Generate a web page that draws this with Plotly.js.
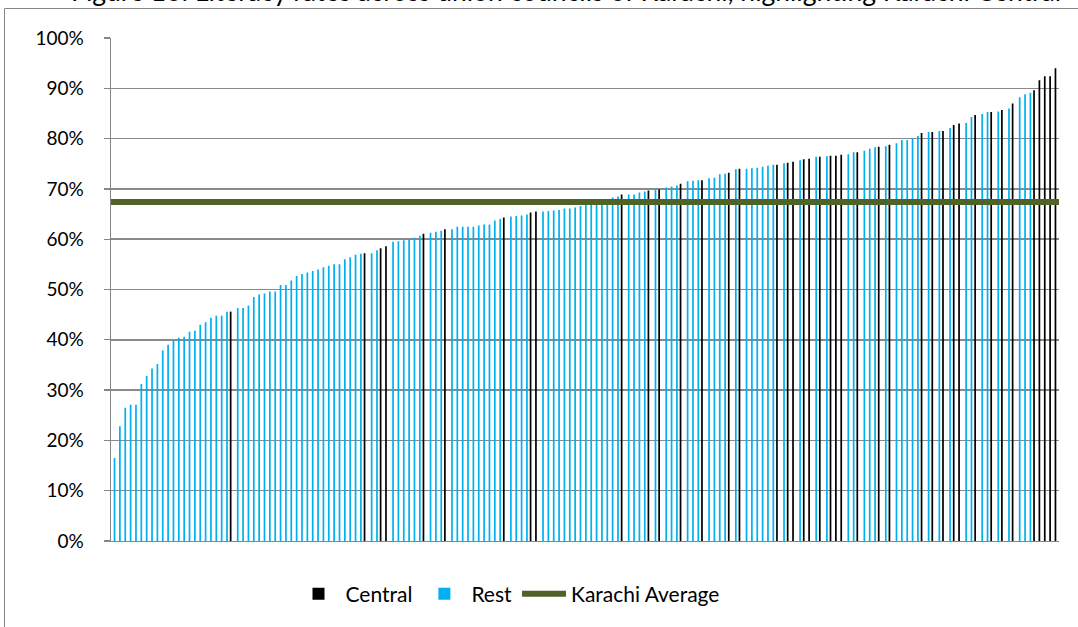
<!DOCTYPE html>
<html>
<head>
<meta charset="utf-8">
<script src="https://cdn.plot.ly/plotly-3.0.1.min.js"></script>
<style>html,body{margin:0;padding:0;background:#fff;}#chart{width:1078px;height:627px;}</style>
</head>
<body>
<div id="chart"></div>
<script>
// Literacy rate per union council (percent), sorted ascending
const literacyRates = [
  16.5, 22.8, 26.5, 27.1, 27.1, 31.2, 32.8, 34.3, 35.2, 37.9,
  39.0, 39.9, 40.4, 40.6, 41.6, 41.8, 43.0, 43.5, 44.4, 44.8,
  44.8, 45.6, 45.6, 46.3, 46.3, 46.8, 48.5, 49.0, 49.2, 49.6,
  49.6, 50.9, 50.9, 51.8, 52.7, 53.1, 53.4, 53.7, 54.0, 54.4,
  54.7, 55.0, 55.0, 56.0, 56.4, 56.9, 57.1, 57.2, 57.2, 57.8,
  58.2, 58.6, 59.5, 59.6, 59.8, 59.9, 60.3, 60.7, 61.1, 61.3,
  61.5, 61.7, 62.0, 62.0, 62.5, 62.5, 62.5, 62.5, 62.7, 62.9,
  62.9, 63.7, 64.0, 64.3, 64.5, 64.6, 64.7, 64.9, 65.3, 65.5,
  65.5, 65.6, 65.7, 65.8, 66.1, 66.1, 66.3, 66.6, 66.8, 67.0,
  67.2, 67.5, 67.8, 68.3, 68.5, 68.9, 68.9, 68.9, 69.3, 69.5,
  69.7, 69.8, 69.9, 70.3, 70.5, 70.7, 71.0, 71.5, 71.6, 71.7,
  71.7, 72.1, 72.2, 72.9, 73.0, 73.2, 73.9, 74.0, 74.0, 74.1,
  74.2, 74.4, 74.6, 74.8, 74.8, 75.1, 75.2, 75.4, 75.7, 75.9,
  76.0, 76.4, 76.4, 76.5, 76.6, 76.6, 76.8, 76.9, 77.3, 77.3,
  77.6, 78.0, 78.3, 78.4, 78.5, 78.8, 79.1, 79.7, 79.7, 80.0,
  80.5, 81.1, 81.3, 81.3, 81.5, 81.5, 82.1, 82.7, 83.0, 83.1,
  84.3, 84.7, 84.9, 85.3, 85.3, 85.4, 85.7, 86.0, 87.0, 88.2,
  88.8, 89.1, 89.6, 91.6, 92.4, 92.4, 94.0
];
// 1-based positions of union councils that belong to District Central
const centralPositions = [
  23, 48, 51, 52, 59, 63, 74, 79, 80, 96, 101, 103, 107, 111, 116, 118,
  125, 127, 128, 130, 131, 133, 135, 136, 137, 140, 144, 146, 152, 154,
  156, 158, 159, 162, 165, 167, 169, 173, 174, 175, 176, 177
];
const karachiAverage = 67.4;
const yTickValues = [0, 10, 20, 30, 40, 50, 60, 70, 80, 90, 100];
const yTickLabels = ['0%', '10%', '20%', '30%', '40%', '50%', '60%', '70%', '80%', '90%', '100%'];
const seriesNames = ['Central', 'Rest', 'Karachi Average'];
const titleText = 'Figure 16: Literacy rates across union councils of Karachi, highlighting Karachi Central';

const positions = literacyRates.map((v, i) => i + 1);
const centralSet = new Set(centralPositions);
const centralY = literacyRates.map((v, i) => centralSet.has(i + 1) ? v : null);
const restY = literacyRates.map((v, i) => centralSet.has(i + 1) ? null : v);

const FONT = 'Lato, "Open Sans", "Liberation Sans", sans-serif';

const traces = [
  {type: 'bar', name: seriesNames[0], x: positions, y: centralY,
   marker: {color: '#000000', line: {width: 0}}, hoverinfo: 'y'},
  {type: 'bar', name: seriesNames[1], x: positions, y: restY,
   marker: {color: '#00B0F0', line: {width: 0}}, hoverinfo: 'y'},
  {type: 'scatter', mode: 'lines', name: seriesNames[2], xaxis: 'x2', yaxis: 'y',
   x: [0, 1], y: [karachiAverage, karachiAverage],
   line: {color: '#4F6228', width: 6}, hoverinfo: 'y'}
];

const plotL = 111, plotR = 1059, plotT = 38, plotB = 541;
const pw = plotR - plotL, ph = plotB - plotT;
const px2x = p => (p - plotL) / pw;
const py2y = p => (plotB - p) / ph;

const layout = {
  width: 1078, height: 627,
  margin: {l: plotL, r: 1078 - plotR, t: plotT, b: 627 - plotB, pad: 0},
  paper_bgcolor: '#ffffff', plot_bgcolor: '#ffffff',
  font: {family: FONT, size: 18, color: '#000000'},
  barmode: 'group', bargap: 0.36, bargroupgap: 0,
  showlegend: true,
  legend: {orientation: 'h', x: px2x(508), xanchor: 'center', y: py2y(594), yanchor: 'middle',
           font: {family: FONT, size: 21, color: '#000000'}, itemwidth: 44, tracegroupgap: 0,
           bgcolor: 'rgba(0,0,0,0)'},
  xaxis: {range: [0.5, literacyRates.length + 0.5], showticklabels: false, ticks: '',
          showgrid: false, zeroline: false, showline: true, linecolor: '#868686', linewidth: 1.3,
          fixedrange: true},
  xaxis2: {overlaying: 'x', range: [0, 1], visible: false, fixedrange: true},
  yaxis: {range: [0, 100], tickvals: yTickValues, ticktext: yTickLabels,
          showgrid: true, gridcolor: '#8a8a8a', gridwidth: 1.5,
          zeroline: false, showline: true, linecolor: '#868686', linewidth: 1.4,
          ticks: 'outside', ticklen: 6, tickcolor: '#868686', tickwidth: 1.3,
          ticklabelstandoff: 16,
          tickfont: {family: FONT, size: 19, color: '#000000'}, fixedrange: true},
  annotations: [{text: titleText, xref: 'paper', yref: 'paper', x: px2x(566), y: py2y(-9),
                 xanchor: 'center', yanchor: 'middle', showarrow: false,
                 font: {family: FONT, size: 26.5, color: '#000000'}}],
  shapes: [{type: 'rect', xref: 'paper', yref: 'paper',
            x0: px2x(4.5), x1: px2x(1090), y0: py2y(640), y1: py2y(8.5),
            line: {color: '#868686', width: 1}, fillcolor: 'rgba(0,0,0,0)', layer: 'below'}]
};

Plotly.newPlot('chart', traces, layout, {displayModeBar: false, staticPlot: true});
</script>
</body>
</html>
